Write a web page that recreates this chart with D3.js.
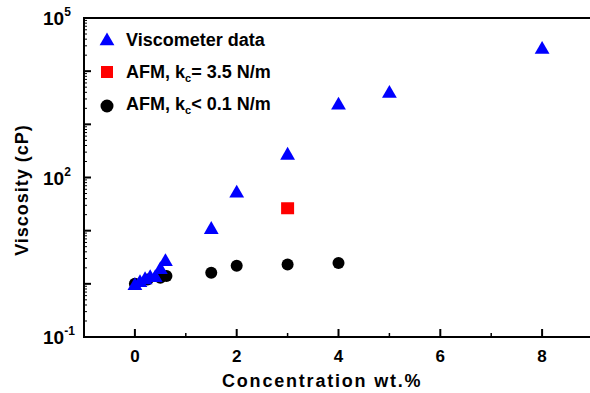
<html>
<head>
<script src="https://d3js.org/d3.v7.min.js"></script>
<style>
  body { margin: 0; background: #fff; }
  text { font-family: Arial, "Liberation Sans", sans-serif; font-weight: bold; fill: #000; }
</style>
</head>
<body>
<svg id="chart" width="590" height="393"></svg>
<script>
// viscometer data (triangles)
const viscX = [0, 0.1, 0.2, 0.3, 0.4, 0.5, 0.6, 1.5, 2, 3, 4, 5, 8];
const viscY = [0.96, 1.09, 1.24, 1.36, 1.36, 1.92, 2.72, 10.9, 52.8, 272, 2380, 3980, 26700];
// AFM stiff cantilever (square)
const afmStiffX = [3];
const afmStiffY = [26.4];
// AFM soft cantilever (circles)
const afmSoftX = [0, 0.25, 0.5, 0.62, 1.5, 2, 3, 4];
const afmSoftY = [1.0, 1.2, 1.3, 1.4, 1.61, 2.18, 2.31, 2.46];

const xTicks = [0, 2, 4, 6, 8];
const xMinor = [-1, 1, 3, 5, 7];
const yLabelled = [-1, 2, 5];   // exponents shown as 10^n
const legendItems = ['Viscometer data', 'AFM, k|c|= 3.5 N/m', 'AFM, k|c|< 0.1 N/m'];

const svg = d3.select('svg#chart');
const pL = 84, pR = 593, pT = 18, pB = 337;

const x = d3.scaleLinear().domain([-1, 9]).range([pL, pR]);
const y = d3.scaleLog().domain([0.1, 1e5]).range([pB, pT]);

// y ticks: decades + minor
const yMajor = d3.range(-1, 6).map(e => Math.pow(10, e));
const yMinorVals = [];
for (let e = -1; e < 5; e++) {
    for (let m = 2; m < 10; m++) yMinorVals.push(m * Math.pow(10, e));
}

svg.selectAll('line.ymaj').data(yMajor).join('line')
    .attr('class', 'ymaj')
    .attr('x1', pL).attr('x2', pL + 7)
    .attr('y1', d => y(d)).attr('y2', d => y(d))
    .attr('stroke', '#000').attr('stroke-width', 2);
svg.selectAll('line.ymin').data(yMinorVals).join('line')
    .attr('class', 'ymin')
    .attr('x1', pL).attr('x2', pL + 3)
    .attr('y1', d => y(d)).attr('y2', d => y(d))
    .attr('stroke', '#000').attr('stroke-width', 1);

// x ticks
svg.selectAll('line.xmaj').data(xTicks).join('line')
    .attr('class', 'xmaj')
    .attr('x1', d => x(d)).attr('x2', d => x(d))
    .attr('y1', pB).attr('y2', pB - 8)
    .attr('stroke', '#000').attr('stroke-width', 2);
svg.selectAll('line.xmin').data(xMinor).join('line')
    .attr('class', 'xmin')
    .attr('x1', d => x(d)).attr('x2', d => x(d))
    .attr('y1', pB).attr('y2', pB - 4)
    .attr('stroke', '#000').attr('stroke-width', 1.5);

// frame: left, bottom, top
svg.append('path')
    .attr('d', `M${pR + 5},${pT}H${pL}V${pB}H${pR + 5}`)
    .attr('fill', 'none').attr('stroke', '#000').attr('stroke-width', 2);

// x tick labels
svg.selectAll('text.xl').data(xTicks).join('text')
    .attr('class', 'xl')
    .attr('x', d => x(d)).attr('y', pB + 25)
    .attr('text-anchor', 'middle').attr('font-size', 17)
    .text(d => d);

// y tick labels
const yl = svg.selectAll('text.yl').data(yLabelled).join('text')
    .attr('class', 'yl')
    .attr('x', 43).attr('y', d => y(Math.pow(10, d)) + 7)
    .attr('font-size', 19);
yl.append('tspan').text('10');
yl.append('tspan').attr('dy', -9).attr('font-size', 12).text(d => d);

// axis titles
svg.append('text')
    .attr('x', 222).attr('y', 387)
    .attr('font-size', 18)
    .attr('letter-spacing', 1.8)
    .text('Concentration wt.%');
svg.append('text')
    .attr('transform', `translate(28,190) rotate(-90)`)
    .attr('text-anchor', 'middle').attr('font-size', 18)
    .attr('letter-spacing', 1)
    .text('Viscosity (cP)');

// markers
const tri = d3.symbol().type(d3.symbolTriangle).size(95);

svg.selectAll('circle.soft').data(afmSoftX).join('circle')
    .attr('class', 'soft')
    .attr('cx', d => x(d)).attr('cy', (d, i) => y(afmSoftY[i]))
    .attr('r', 6).attr('fill', '#000');

svg.selectAll('rect.stiff').data(afmStiffX).join('rect')
    .attr('class', 'stiff')
    .attr('x', d => x(d) - 6.5).attr('y', (d, i) => y(afmStiffY[i]) - 6)
    .attr('width', 13).attr('height', 12).attr('fill', '#ff0000');

svg.selectAll('path.visc').data(viscX).join('path')
    .attr('class', 'visc')
    .attr('transform', (d, i) => `translate(${x(d)},${y(viscY[i]) + 1})`)
    .attr('d', tri).attr('fill', '#0000ff');

// legend
const lg = svg.append('g');
const rowY = [40, 72, 104];
lg.append('path').attr('transform', `translate(107,${rowY[0] + 1})`)
    .attr('d', tri).attr('fill', '#0000ff');
lg.append('rect').attr('x', 101).attr('y', rowY[1] - 6)
    .attr('width', 12).attr('height', 12).attr('fill', '#ff0000');
lg.append('circle').attr('cx', 107).attr('cy', rowY[2] + 2).attr('r', 6.5).attr('fill', '#000');

legendItems.forEach((s, i) => {
    const parts = s.split('|');
    const t = lg.append('text').attr('x', 126).attr('y', rowY[i] + 6).attr('font-size', 18);
    t.append('tspan').text(parts[0]);
    if (parts.length > 1) {
        t.append('tspan').attr('dy', 4).attr('font-size', 11).text(parts[1]);
        t.append('tspan').attr('dy', -4).text(parts[2]);
    }
});
</script>
</body>
</html>
